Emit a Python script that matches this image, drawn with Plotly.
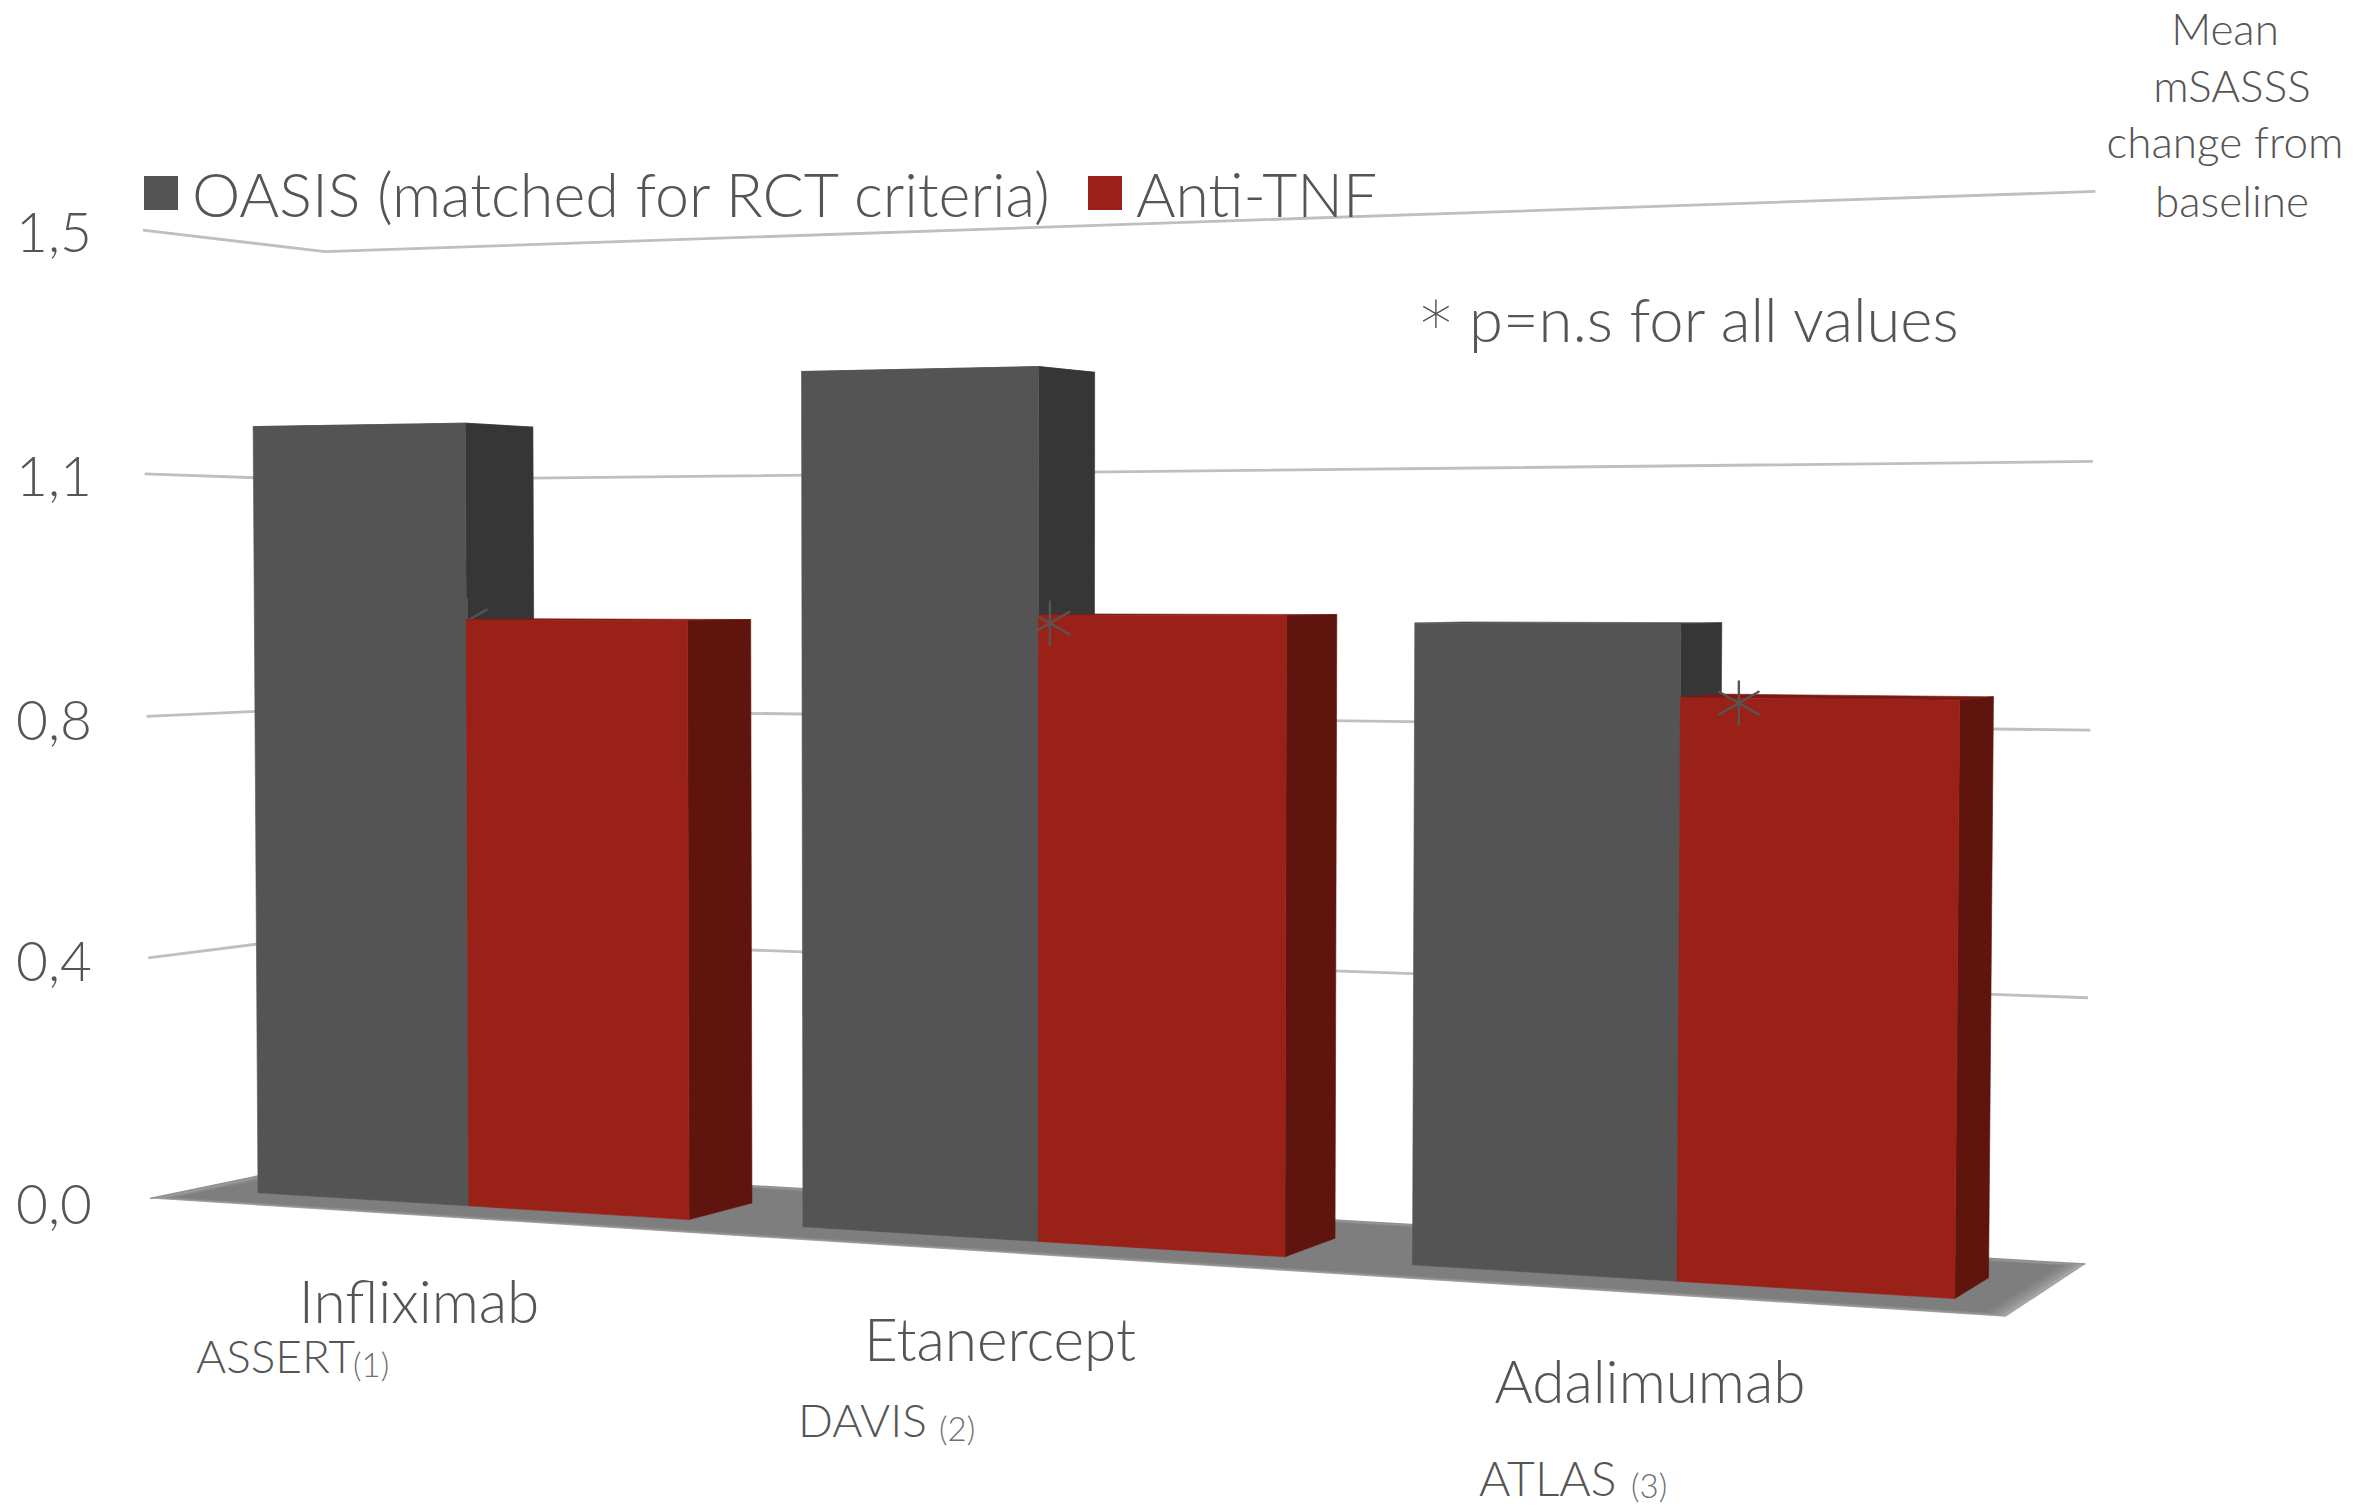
import numpy as np
import plotly.graph_objects as go

# ---- chart values ----
categories = ["Infliximab", "Etanercept", "Adalimumab"]
trials = ["ASSERT", "DAVIS", "ATLAS"]
trial_refs = ["(1)", "(2)", "(3)"]
oasis_values = [1.20, 1.268, 0.90]
anti_tnf_values = [0.90, 0.91, 0.80]
axis_values = [0.0, 0.375, 0.75, 1.125, 1.5]
axis_labels = ["0,0", "0,4", "0,8", "1,1", "1,5"]
series_names = ["OASIS (matched for RCT criteria)", "Anti-TNF"]

# ---- colours ----
TEXT = "#555555"
GRAY_FRONT, GRAY_SIDE, GRAY_TOP = "#545454", "#363636", "#4b4b4b"
RED_FRONT, RED_SIDE, RED_TOP = "#9a2118", "#60140e", "#7a1a12"
FLOOR_SHADES = ["#a4a4a4", "#979797", "#8c8c8c", "#848484", "#7e7e7e"]
GRID = "#bfbfbf"
FONT = "Lato"
WEIGHT = 300


def project(t, d, v):
    """Perspective camera: t = category position, d = depth, v = axis value."""
    c, e, f = 0.053, 0.0254, -0.00543
    xh = 258 + 502.4 * t + d * e * 3120 + v * f * 1000
    yh = 1192.7 - 31.0 * t + d * e * 580 + v * f * 118000
    w = 1 - c * t + e * d + f * v
    return xh / w, yh / w


def poly(corners):
    pts = [project(*p) for p in corners]
    return [p[0] for p in pts], [p[1] for p in pts]


fig = go.Figure()


def face(corners, color, edge=0.6):
    x, y = poly(corners + corners[:1])
    fig.add_trace(go.Scatter(x=x, y=y, mode="lines", fill="toself", fillcolor=color,
                             line=dict(color=color, width=edge), hoverinfo="skip"))


def label(x, y, text, size, pos="middle right", color=TEXT, weight=WEIGHT, family=FONT):
    # y is the baseline of the text
    fig.add_trace(go.Scatter(x=[x], y=[y - 0.26 * size], mode="text", text=[text], textposition=pos,
                             textfont=dict(family=family, size=size, color=color, weight=weight),
                             cliponaxis=False, hoverinfo="skip"))


def star(x, y, size):
    # x, y is the middle of the glyph
    label(x, y + 0.536 * size, "*", size, "middle center", family="DejaVu Sans", weight=200)


def bar_faces(t0, t1, v, front, side, top, front_on=True, back_on=True):
    if back_on:
        face([(t0, 0, v), (t1, 0, v), (t1, 1, v), (t0, 1, v)], top)
        face([(t1, 0, 0), (t1, 1, 0), (t1, 1, v), (t1, 0, v)], side)
    if front_on:
        face([(t0, 0, 0), (t1, 0, 0), (t1, 0, v), (t0, 0, v)], front)


# floor with softly fading rim, then the wall gridlines
T_LEFT, T_RIGHT, D_FRONT, D_BACK = -0.12, 2.9, -0.62, 1.9
for k, shade in enumerate(FLOOR_SHADES):
    ti, di = 0.008 * k, 0.035 * k
    face([(T_LEFT + ti, D_FRONT + di, 0), (T_RIGHT - ti, D_FRONT + di, 0),
          (T_RIGHT - ti, D_BACK - di, 0), (T_LEFT + ti, D_BACK - di, 0)], shade, edge=0)
for v in axis_values:
    x, y = poly([(T_LEFT, D_FRONT, v), (T_LEFT, D_BACK, v), (T_RIGHT, D_BACK, v)])
    color = GRID if v else "#8f8f8f"
    fig.add_trace(go.Scatter(x=x, y=y, mode="lines", line=dict(color=color, width=2.8 if v else 1.5),
                             hoverinfo="skip"))

# significance marks sit between the bars; the first one tucks behind its grey front face
STAR_SIZE = 100
star_points = [(467, 620), (1050, 622), (1739, 702)]

for i in range(3):
    bar_faces(i, i + 0.4, oasis_values[i], GRAY_FRONT, GRAY_SIDE, GRAY_TOP, front_on=False)
    if i == 0:
        star(star_points[0][0], star_points[0][1], STAR_SIZE)
    bar_faces(i, i + 0.4, oasis_values[i], GRAY_FRONT, GRAY_SIDE, GRAY_TOP, back_on=False)
    bar_faces(i + 0.4, i + 0.8, anti_tnf_values[i], RED_FRONT, RED_SIDE, RED_TOP)
    if i > 0:
        star(star_points[i][0], star_points[i][1], STAR_SIZE)

# axis labels
label_y = [1225, 982, 741, 497, 253]
for text, y in zip(axis_labels, label_y):
    label(54, y, text, 55, "middle center")

# legend
for x, color in zip([161, 1105], [GRAY_FRONT, RED_FRONT]):
    fig.add_trace(go.Scatter(x=[x], y=[193], mode="markers",
                             marker=dict(symbol="square", size=34, color=color, line=dict(width=0)),
                             hoverinfo="skip"))
label(192, 218, series_names[0], 61)
label(1136, 218, series_names[1], 60.5)
star(1436, 313, 62)
label(1469, 343, "p=n.s for all values", 61.5)

# axis title, one line at a time
for text, x, y in zip(["Mean", "mSASSS", "change from", "baseline"], [2225, 2232, 2225, 2232], [45, 102, 158, 217]):
    label(x, y, text, 44, "middle center")

# category labels with trial names underneath
cat_x, cat_y = [419, 1000, 1650], [1324, 1362, 1404]
trial_x, trial_y = [196, 798, 1479], [1373, 1437, 1496]
trial_size = [46, 46, 48]
ref_x = [353, 939, 1631]
ref_drop = [4, 4, 2]
for i in range(3):
    label(cat_x[i], cat_y[i], categories[i], 58.5, "middle center")
    label(trial_x[i], trial_y[i], trials[i], trial_size[i])
    label(ref_x[i], trial_y[i] + ref_drop[i], trial_refs[i], 33, color="#6f6f6f")

fig.update_layout(
    width=2375, height=1507, margin=dict(l=0, r=0, t=0, b=0),
    paper_bgcolor="white", plot_bgcolor="white", showlegend=False,
    xaxis=dict(range=[0, 2375], visible=False, fixedrange=True),
    yaxis=dict(range=[1507, 0], visible=False, fixedrange=True),
)
fig.write_html("out.html")
